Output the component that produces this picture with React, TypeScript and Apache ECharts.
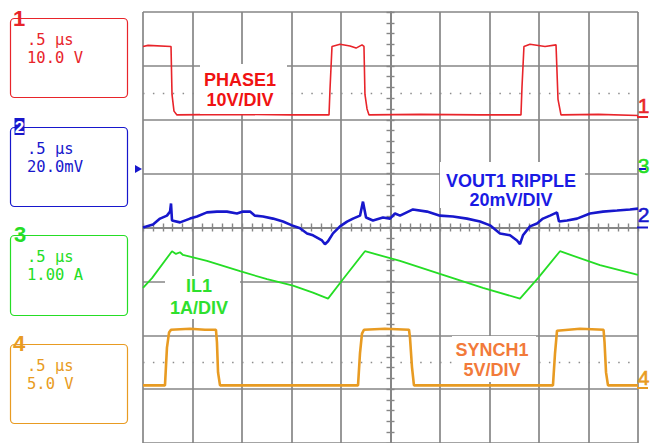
import React, { useEffect, useRef } from "react";
import * as echarts from "echarts";

// Time axis: 0.5 us/div, 10 divisions, trigger at centre (us)
const TIME_MIN = -2.5;
const TIME_MAX = 2.5;
const TIME_PER_DIV = 0.5;
const DIV_MIN = -4;
const DIV_MAX = 4;

// Channel settings (scale per division, ground offset in divisions)
const CH1_SCALE = 10; // V/div
const CH1_OFFSET = 2.07;
const CH2_SCALE = 20; // mV/div
const CH2_OFFSET = 0.02;
const CH3_SCALE = 1; // A/div
const CH3_OFFSET = 1.0;
const CH4_SCALE = 5; // V/div
const CH4_OFFSET = -2.93;

// CH1 PHASE1 (V)
const PHASE_T = [-2.5, -2.449, -2.217, -2.207, -2.187, -2.157, -1.6, -1.0, -0.621, -0.611, -0.591, -0.51, -0.409, -0.348, -0.288, -0.268, -0.258, -0.237, -0.217, 0.3, 0.9, 1.318, 1.328, 1.348, 1.409, 1.561, 1.672, 1.692, 1.722, 2.1, 2.5];
const PHASE_V = [12.9, 13.1, 12.9, 4.0, 0.9, 0.2, 0.3, 0.2, 0.2, 5.0, 12.9, 13.3, 13.0, 12.6, 13.2, 12.9, 4.0, 1.3, 0.2, 0.3, 0.2, 0.2, 5.3, 12.9, 13.3, 12.9, 13.2, 3.1, 0.2, 0.3, 0.1];

// CH2 VOUT1 ripple (mV)
const RIPPLE_T = [-2.5, -2.399, -2.328, -2.258, -2.227, -2.217, -2.207, -2.126, -2.025, -1.955, -1.854, -1.753, -1.652, -1.551, -1.49, -1.419, -1.369, -1.288, -1.187, -1.086, -0.995, -0.914, -0.843, -0.783, -0.692, -0.662, -0.631, -0.581, -0.51, -0.439, -0.379, -0.308, -0.278, -0.247, -0.177, -0.076, -0.005, 0.045, 0.096, 0.227, 0.369, 0.5, 0.631, 0.773, 0.904, 1.005, 1.106, 1.207, 1.278, 1.308, 1.338, 1.409, 1.48, 1.54, 1.611, 1.682, 1.702, 1.783, 1.884, 2.015, 2.146, 2.288, 2.419, 2.5];
const RIPPLE_MV = [-0.4, 0.7, 2.9, 4.0, 5.5, 8.5, 2.2, 1.5, 2.9, 3.7, 5.2, 5.5, 5.5, 4.8, 5.5, 5.5, 4.0, 3.7, 2.9, 1.8, 0.4, -0.7, -2.6, -3.3, -5.2, -6.6, -5.5, -2.6, 0, 1.8, 2.9, 4.0, 9.2, 3.3, 2.2, 3.3, 2.9, 4.8, 4.0, 6.3, 5.5, 4.0, 3.7, 2.9, 1.8, 0.4, -2.6, -3.3, -5.2, -6.6, -3.3, 0, 1.1, 2.9, 4.0, 5.2, 1.8, 2.2, 2.9, 4.8, 5.5, 5.9, 6.3, 6.6];

// CH3 IL1 (A)
const IL_T = [-2.5, -2.409, -2.207, -2.167, -2.126, -2.096, -1.854, -1.52, -1.247, -0.985, -0.783, -0.631, -0.48, -0.258, 0.096, 0.53, 0.934, 1.308, 1.49, 1.712, 2.116, 2.5];
const IL_A = [-2.12, -1.94, -1.44, -1.49, -1.46, -1.51, -1.62, -1.81, -1.96, -2.08, -2.21, -2.32, -1.96, -1.44, -1.62, -1.88, -2.12, -2.32, -1.94, -1.44, -1.7, -1.88];

// CH4 SYNCH1 (V)
const SYNC_T = [-2.5, -2.278, -2.258, -2.237, -2.217, -2.025, -1.874, -1.763, -1.753, -1.742, -1.722, -0.914, -0.328, -0.308, -0.288, -0.268, -0.056, 0.187, 0.197, 0.217, 0.237, 1.106, 1.641, 1.662, 1.682, 1.914, 2.152, 2.162, 2.177, 2.197, 2.5];
const SYNC_V = [0, 0, 3.5, 4.9, 5.16, 5.25, 5.16, 5.16, 4.0, 1.2, 0, 0, 0, 3.0, 4.8, 5.16, 5.25, 5.16, 4.4, 1.7, 0, 0, 0, 3.0, 5.07, 5.25, 5.16, 4.0, 1.2, 0, 0];

// Channel readouts
const CH_TIMEBASE = [".5 μs", ".5 μs", ".5 μs", ".5 μs"];
const CH_VOLTS = ["10.0 V", "20.0mV", "1.00 A", "5.0 V"];
const TRACE_LABELS = [
  ["PHASE1", "10V/DIV"],
  ["VOUT1 RIPPLE", "20mV/DIV"],
  ["IL1", "1A/DIV"],
  ["SYNCH1", "5V/DIV"],
];

const RED = "#e8242a";
const BLUE = "#1717cc";
const GREEN = "#25dd25";
const ORANGE = "#e89b22";
const GRIDC = "#868686";

const toDiv = (ts: number[], vs: number[], scale: number, offset: number) =>
  ts.map((t, i) => [t, offset + vs[i] / scale]);

export default function App() {
  const ref = useRef<HTMLDivElement>(null);
  useEffect(() => {
    const chart = echarts.init(ref.current!, null, { renderer: "svg" });
    const grid = { left: 143, top: 12, width: 495, height: 434 };
    const tickAxisX = (inside: boolean) => ({
      type: "value",
      min: TIME_MIN,
      max: TIME_MAX,
      interval: TIME_PER_DIV / 5,
      axisLine: { show: true, onZero: true, onZeroAxisIndex: 0, lineStyle: { color: GRIDC, width: 1.6 } },
      axisTick: { show: true, inside, length: 4, lineStyle: { color: GRIDC, width: 1.4 } },
      axisLabel: { show: false },
      splitLine: { show: false },
    });
    const tickAxisY = (inside: boolean) => ({
      type: "value",
      min: DIV_MIN,
      max: DIV_MAX,
      interval: 0.2,
      axisLine: { show: true, onZero: true, onZeroAxisIndex: 0, lineStyle: { color: GRIDC, width: 1.6 } },
      axisTick: { show: true, inside, length: 4, lineStyle: { color: GRIDC, width: 1.4 } },
      axisLabel: { show: false },
      splitLine: { show: false },
    });
    const monoFont = '15.5px "DejaVu Sans Mono"';
    const labelFont = 'bold 18px "Liberation Sans"';
    const boxColors = [RED, BLUE, GREEN, ORANGE];
    const boxTops = [18.5, 127.5, 235.5, 344.5];
    const boxHeights = [79, 79, 80, 79];
    const graphics: any[] = [];
    boxTops.forEach((top, i) => {
      graphics.push({
        type: "rect",
        z: 100,
        shape: { x: 10.5, y: top, width: 117, height: boxHeights[i], r: 4 },
        style: { fill: "#fff", stroke: boxColors[i], lineWidth: 1.2 },
      });
      graphics.push({
        type: "text",
        z: 101,
        x: 27,
        y: top + 21,
        style: { text: CH_TIMEBASE[i], fill: boxColors[i], font: monoFont, textVerticalAlign: "middle" },
      });
      graphics.push({
        type: "text",
        z: 101,
        x: 27,
        y: top + 39.5,
        style: { text: CH_VOLTS[i], fill: boxColors[i], font: monoFont, textVerticalAlign: "middle" },
      });
    });
    // channel numbers on boxes
    graphics.push({ type: "text", z: 102, x: 19, y: 18.5, style: { text: "1", fill: RED, font: 'bold 22px "Liberation Sans"', textAlign: "center", textVerticalAlign: "middle" } });
    graphics.push({ type: "rect", z: 102, shape: { x: 14.5, y: 118, width: 10, height: 17 }, style: { fill: BLUE } });
    graphics.push({ type: "text", z: 103, x: 19.5, y: 127, style: { text: "2", fill: "#fff", font: 'bold 17px "Liberation Sans"', textAlign: "center", textVerticalAlign: "middle" } });
    graphics.push({ type: "text", z: 102, x: 20, y: 234.5, style: { text: "3", fill: GREEN, font: 'bold 22px "Liberation Sans"', textAlign: "center", textVerticalAlign: "middle" } });
    graphics.push({ type: "text", z: 102, x: 19, y: 343.5, style: { text: "4", fill: ORANGE, font: 'bold 22px "Liberation Sans"', textAlign: "center", textVerticalAlign: "middle" } });

    // white label panels + labels
    const panels = [
      { x: 200, y: 64, w: 87, h: 50, cx: 240, y1: 80, y2: 99.5, c: "#f01212" },
      { x: 440, y: 162, w: 145, h: 46, cx: 511, y1: 180.5, y2: 200, c: "#1a1ae4" },
      { x: 165, y: 276, w: 75, h: 43, cx: 199, y1: 285.5, y2: 307.5, c: "#2ee02e" },
      { x: 452, y: 336, w: 84, h: 46, cx: 492, y1: 350, y2: 370, c: "#f27a3a" },
    ];
    panels.forEach((p, i) => {
      graphics.push({ type: "rect", z: 90, shape: { x: p.x, y: p.y, width: p.w, height: p.h }, style: { fill: "#fff" } });
      graphics.push({ type: "text", z: 91, x: p.cx, y: p.y1, style: { text: TRACE_LABELS[i][0], fill: p.c, font: labelFont, textAlign: "center", textVerticalAlign: "middle" } });
      graphics.push({ type: "text", z: 91, x: p.cx, y: p.y2, style: { text: TRACE_LABELS[i][1], fill: p.c, font: labelFont, textAlign: "center", textVerticalAlign: "middle" } });
    });

    // right-hand ground markers
    const markerFont = '21px "Liberation Sans"';
    const markers = [
      { t: "1", y: 105, ly: 117, c: RED },
      { t: "2", y: 214, ly: 227.5, c: BLUE },
      { t: "4", y: 377, ly: 388, c: ORANGE },
    ];
    markers.forEach((m) => {
      graphics.push({ type: "text", z: 95, x: 643.5, y: m.y, style: { text: m.t, fill: m.c, font: markerFont, textAlign: "center", textVerticalAlign: "middle", stroke: m.c, lineWidth: 0.6 } });
      graphics.push({ type: "line", z: 95, shape: { x1: 637, y1: m.ly, x2: 648, y2: m.ly }, style: { stroke: m.c, lineWidth: 2 } });
    });
    graphics.push({ type: "text", z: 95, x: 643.5, y: 165, style: { text: "3", fill: GREEN, font: markerFont, textAlign: "center", textVerticalAlign: "middle", stroke: GREEN, lineWidth: 0.6 } });
    graphics.push({ type: "line", z: 96, shape: { x1: 639, y1: 169, x2: 646, y2: 169 }, style: { stroke: BLUE, lineWidth: 2 } });
    // left blue pointer
    graphics.push({ type: "polygon", z: 95, shape: { points: [[135, 165], [142, 169], [135, 173]] }, style: { fill: BLUE } });

    const lineSeries = (name: string, data: number[][], color: string, width: number, extra: any = {}) => ({
      name,
      type: "line",
      data,
      showSymbol: false,
      symbol: "none",
      clip: true,
      z: 5,
      lineStyle: { color, width },
      ...extra,
    });

    chart.setOption({
      animation: false,
      backgroundColor: "#ffffff",
      grid,
      xAxis: [
        {
          type: "value",
          min: TIME_MIN,
          max: TIME_MAX,
          interval: TIME_PER_DIV,
          axisLine: { show: false },
          axisTick: { show: false },
          axisLabel: { show: false },
          splitLine: { show: true, lineStyle: { color: GRIDC, width: 1.7 } },
        },
        tickAxisX(true),
        tickAxisX(false),
      ],
      yAxis: [
        {
          type: "value",
          min: DIV_MIN,
          max: DIV_MAX,
          interval: 1,
          axisLine: { show: false },
          axisTick: { show: false },
          axisLabel: { show: false },
          splitLine: { show: true, lineStyle: { color: GRIDC, width: 1.7 } },
        },
        tickAxisY(true),
        tickAxisY(false),
      ],
      series: [
        lineSeries("PHASE1", toDiv(PHASE_T, PHASE_V, CH1_SCALE, CH1_OFFSET), RED, 1.6, {
          markLine: {
            silent: true,
            symbol: "none",
            label: { show: false },
            z: 1,
            lineStyle: { color: "#8c8c8c", type: [1.5, 8.4], width: 1.4 },
            data: [{ yAxis: 2.5 }, { yAxis: -2.5 }],
          },
        }),
        lineSeries("VOUT1 RIPPLE", toDiv(RIPPLE_T, RIPPLE_MV, CH2_SCALE, CH2_OFFSET), BLUE, 2.6),
        lineSeries("IL1", toDiv(IL_T, IL_A, CH3_SCALE, CH3_OFFSET), GREEN, 1.8),
        lineSeries("SYNCH1", toDiv(SYNC_T, SYNC_V, CH4_SCALE, CH4_OFFSET), ORANGE, 2.6),
      ],
      graphic: graphics,
    });
    return () => chart.dispose();
  }, []);
  return (
    <div
      ref={ref}
      style={{ position: "absolute", left: 0, top: 0, width: 660, height: 443, background: "#fff" }}
    />
  );
}
